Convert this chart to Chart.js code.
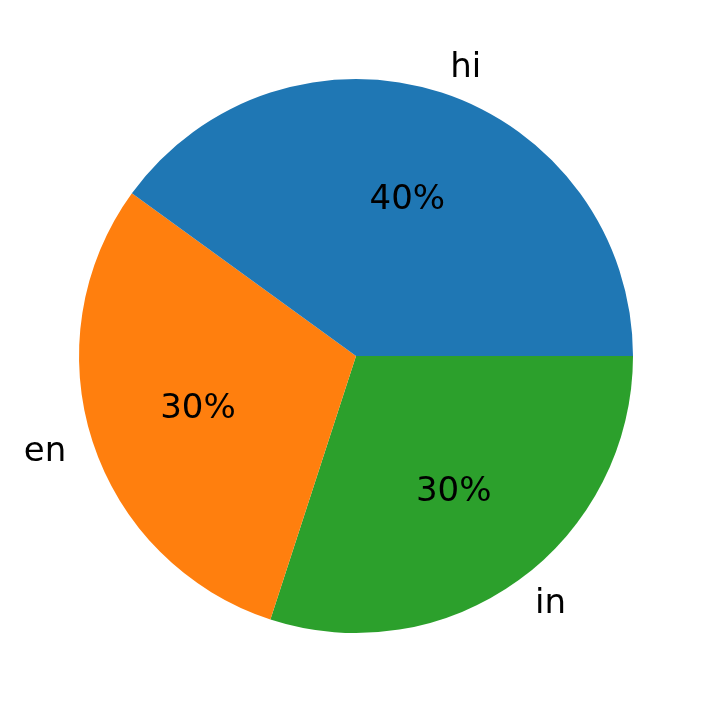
<!DOCTYPE html>
<html>
<head>
<meta charset="utf-8">
<script src="https://cdn.jsdelivr.net/npm/chart.js@4"></script>
<style>
  html, body { margin: 0; padding: 0; background: #fff; }
  #wrap { width: 712px; height: 713px; }
</style>
</head>
<body>
<div id="wrap"><canvas id="pie"></canvas></div>
<script>
// slices in matplotlib order (counterclockwise from 3 o'clock)
const labels = ["hi", "en", "in"];
const values = [40, 30, 30];
const colors = ["#1f77b4", "#ff7f0e", "#2ca02c"];

// chart.js draws clockwise, so reverse the order
const rLabels = labels.slice().reverse();
const rValues = values.slice().reverse();
const rColors = colors.slice().reverse();

const FONT = "34px 'DejaVu Sans'";

const pieLabels = {
  id: "pieLabels",
  afterDatasetsDraw(chart) {
    const ctx = chart.ctx;
    const meta = chart.getDatasetMeta(0);
    const total = rValues.reduce((a, b) => a + b, 0);
    ctx.save();
    ctx.font = FONT;
    ctx.fillStyle = "#000";
    ctx.textBaseline = "middle";
    meta.data.forEach((arc, i) => {
      const mid = (arc.startAngle + arc.endAngle) / 2;
      const r = arc.outerRadius;
      const cx = arc.x, cy = arc.y + 2;
      // percentage inside
      ctx.textAlign = "center";
      ctx.fillText(Math.round(rValues[i] / total * 100) + "%",
        cx + Math.cos(mid) * r * 0.6, cy + Math.sin(mid) * r * 0.6);
      // category outside
      const lx = cx + Math.cos(mid) * r * 1.1;
      const ly = cy + Math.sin(mid) * r * 1.1;
      ctx.textAlign = lx >= cx ? "left" : "right";
      ctx.fillText(rLabels[i], lx, ly);
    });
    ctx.restore();
  }
};

new Chart(document.getElementById("pie").getContext("2d"), {
  type: "pie",
  data: {
    labels: rLabels,
    datasets: [{
      data: rValues,
      backgroundColor: rColors,
      borderWidth: 0
    }]
  },
  options: {
    responsive: true,
    maintainAspectRatio: false,
    animation: false,
    rotation: 90,
    layout: { padding: { left: 79, right: 79, top: 79, bottom: 80 } },
    plugins: {
      legend: { display: false },
      tooltip: { enabled: false }
    }
  },
  plugins: [pieLabels]
});
</script>
</body>
</html>
